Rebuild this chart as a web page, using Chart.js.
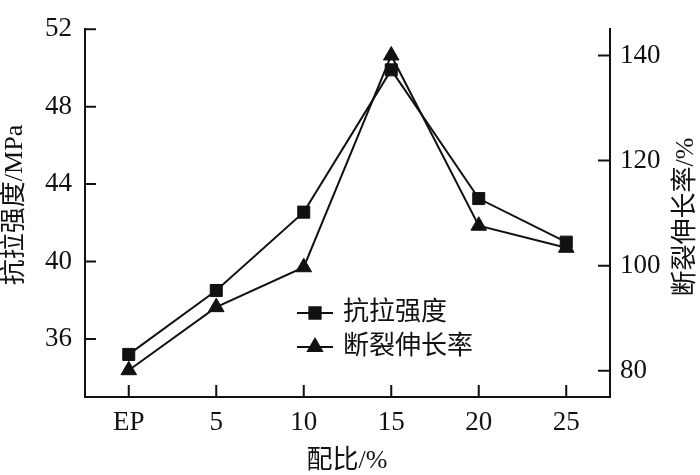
<!DOCTYPE html>
<html>
<head>
<meta charset="utf-8">
<script src="https://cdn.jsdelivr.net/npm/chart.js@4/dist/chart.umd.min.js"></script>
<style>
    html, body { margin: 0; padding: 0; background: #fff; }
    #wrap { width: 700px; height: 475px; }
</style>
</head>
<body>
<div id="wrap"><canvas id="chart" width="700" height="475"></canvas></div>
<script>
const categories = ['EP', '5', '10', '15', '20', '25'];
const tensileStrength = [35.2, 38.5, 42.55, 49.9, 43.25, 41.0];
const elongation = [80.1, 92.1, 99.7, 140, 107.6, 103.4];
const leftTicks = [36, 40, 44, 48, 52];
const rightTicks = [80, 100, 120, 140];

const serif = "'Liberation Serif', 'Noto Sans CJK SC', serif";
const black = '#111';

// inward tick marks, axis titles and the legend
const decorations = {
    id: 'decorations',
    afterDraw(chart) {
        const { ctx, chartArea, scales } = chart;
        ctx.save();
        ctx.strokeStyle = black;
        ctx.lineWidth = 2;
        ctx.beginPath();
        scales.y.ticks.forEach((t) => {
            const py = scales.y.getPixelForValue(t.value);
            ctx.moveTo(chartArea.left, py);
            ctx.lineTo(chartArea.left + 11, py);
        });
        scales.y2.ticks.forEach((t) => {
            const py = scales.y2.getPixelForValue(t.value);
            ctx.moveTo(chartArea.right, py);
            ctx.lineTo(chartArea.right - 12, py);
        });
        categories.forEach((_, i) => {
            const px = scales.x.getPixelForTick(i);
            ctx.moveTo(px, chartArea.bottom);
            ctx.lineTo(px, chartArea.bottom - 12);
        });
        ctx.stroke();

        ctx.fillStyle = black;
        ctx.font = `26px ${serif}`;
        ctx.textAlign = 'center';
        ctx.textBaseline = 'middle';
        ctx.fillText('配比/%', 347, 461);

        ctx.save();
        ctx.translate(15, 205);
        ctx.rotate(-Math.PI / 2);
        ctx.fillText('抗拉强度/MPa', 0, 0);
        ctx.restore();

        ctx.save();
        ctx.translate(686, 217);
        ctx.rotate(-Math.PI / 2);
        ctx.fillText('断裂伸长率/%', 0, 0);
        ctx.restore();

        // legend
        const rows = [
            { text: '抗拉强度', style: 'rect', y: 313 },
            { text: '断裂伸长率', style: 'triangle', y: 347 },
        ];
        rows.forEach((r) => {
            ctx.beginPath();
            ctx.lineWidth = 2;
            ctx.moveTo(297, r.y);
            ctx.lineTo(333, r.y);
            ctx.stroke();
            Chart.helpers.drawPoint(ctx, { pointStyle: r.style, radius: 8, borderWidth: 1 }, 315, r.y);
            ctx.fill();
            ctx.textAlign = 'left';
            ctx.fillText(r.text, 343, r.y);
        });
        ctx.restore();
    },
};

new Chart(document.getElementById('chart'), {
    type: 'line',
    data: {
        labels: categories,
        datasets: [
            {
                label: '抗拉强度',
                data: tensileStrength,
                yAxisID: 'y',
                borderColor: black,
                borderWidth: 2,
                backgroundColor: black,
                pointStyle: 'rect',
                pointRadius: 8.5,
                pointBorderWidth: 1,
                tension: 0,
            },
            {
                label: '断裂伸长率',
                data: elongation,
                yAxisID: 'y2',
                borderColor: black,
                borderWidth: 2,
                backgroundColor: black,
                pointStyle: 'triangle',
                pointRadius: 9,
                pointBorderWidth: 1,
                tension: 0,
            },
        ],
    },
    options: {
        responsive: false,
        animation: false,
        layout: { padding: { top: 11, left: 0, right: 0, bottom: 0 } },
        plugins: {
            legend: { display: false },
            tooltip: { enabled: false },
        },
        scales: {
            x: {
                type: 'category',
                offset: true,
                grid: { display: false, drawTicks: false },
                border: { color: black, width: 2 },
                ticks: { color: black, font: { family: serif, size: 27 }, padding: 10, maxRotation: 0 },
                afterFit: (s) => { s.height = 78; },
            },
            y: {
                position: 'left',
                min: 33,
                max: 52,
                grid: { display: false, drawTicks: false },
                border: { color: black, width: 2 },
                ticks: { color: black, font: { family: serif, size: 27 }, padding: 13 },
                afterBuildTicks: (s) => { s.ticks = leftTicks.map((v) => ({ value: v })); },
                afterFit: (s) => { s.width = 85; },
            },
            y2: {
                position: 'right',
                min: 75,
                max: 145,
                grid: { display: false, drawTicks: false },
                border: { color: black, width: 2 },
                ticks: { color: black, font: { family: serif, size: 27 }, padding: 10 },
                afterBuildTicks: (s) => { s.ticks = rightTicks.map((v) => ({ value: v })); },
                afterFit: (s) => { s.width = 90; },
            },
        },
    },
    plugins: [decorations],
});
</script>
</body>
</html>
